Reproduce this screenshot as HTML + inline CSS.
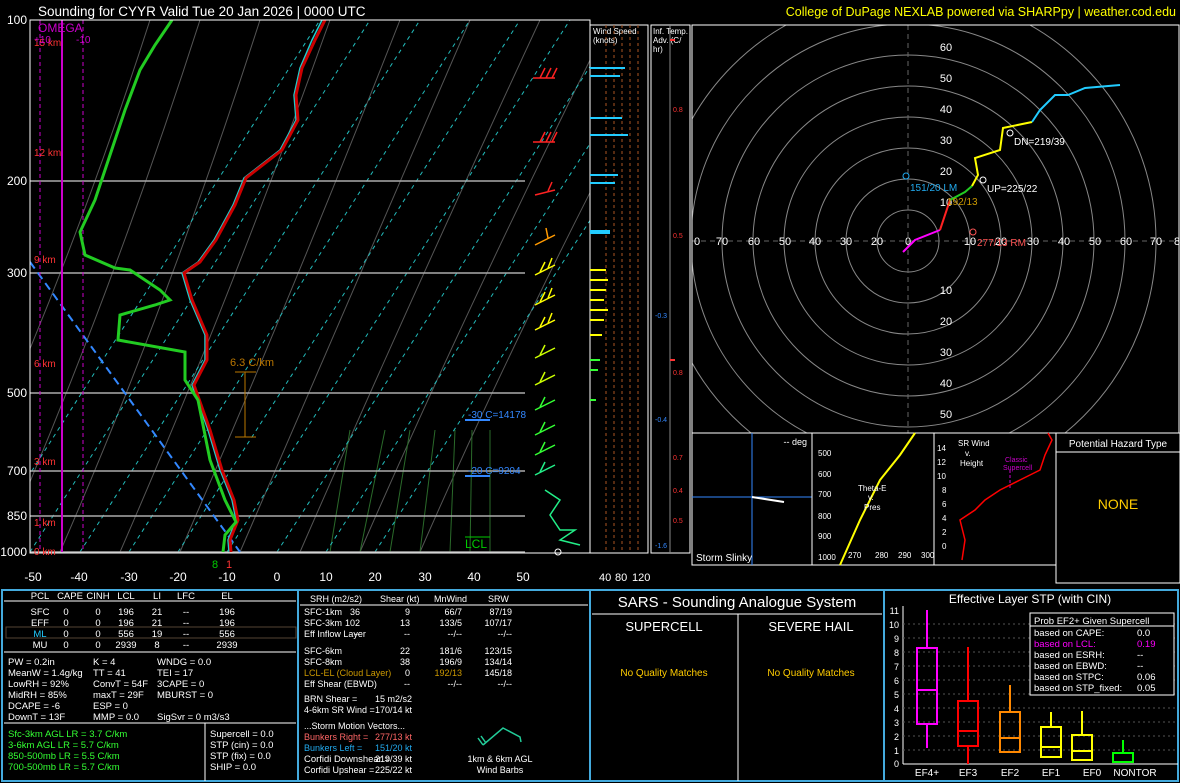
<!DOCTYPE html>
<html><head><meta charset="utf-8"><style>
body{margin:0;background:#000;width:1180px;height:783px;overflow:hidden}
svg{display:block;font-family:"Liberation Sans",sans-serif}
</style></head><body>
<svg width="1180" height="783" viewBox="0 0 1180 783" xmlns="http://www.w3.org/2000/svg">
<rect width="1180" height="783" fill="#000"/>
<text x="38" y="16" fill="#fff" font-size="13.5">Sounding for CYYR Valid  Tue 20 Jan 2026 | 0000 UTC</text>
<text x="1176" y="16" fill="#ff0" font-size="12.5" text-anchor="end">College of DuPage NEXLAB powered via SHARPpy | weather.cod.edu</text>
<defs><clipPath id="sk"><rect x="30" y="20" width="560" height="533"/></clipPath><clipPath id="hd"><rect x="692" y="25" width="487" height="408"/></clipPath></defs>
<g clip-path="url(#sk)">
<g stroke="#555" stroke-width="1" fill="none">
<path d="M-60 552 Q60 300 150 20"/><path d="M0 552 Q110 300 200 20"/><path d="M60 552 Q170 300 260 20"/>
<path d="M120 552 Q230 300 330 20"/><path d="M180 552 Q290 300 400 20"/><path d="M240 552 Q350 300 470 20"/>
<path d="M300 552 Q410 300 540 20"/><path d="M360 552 Q470 300 610 20"/><path d="M420 552 Q530 300 680 20"/>
</g>
<g stroke="#2a6a2a" stroke-width="1" fill="none">
<path d="M330 552 L350 430"/><path d="M360 552 L385 430"/><path d="M390 552 L410 430"/><path d="M420 552 L435 430"/><path d="M450 552 L455 430"/><path d="M470 552 L472 430"/><path d="M490 552 L490 430"/>
</g>
<g stroke="#2bb" stroke-width="1" stroke-dasharray="4,4" fill="none">
<path d="M-20 552 L320 20"/><path d="M30 552 L370 20"/><path d="M80 552 L420 20"/><path d="M129 552 L470 20"/><path d="M178 552 L520 20"/><path d="M227 552 L570 20"/><path d="M277 552 L620 20"/><path d="M326 552 L670 20"/><path d="M375 552 L720 20"/>
</g>
<g stroke="#aaa" stroke-width="1.5"><line x1="30" y1="181" x2="525" y2="181"/><line x1="30" y1="273" x2="525" y2="273"/><line x1="30" y1="393" x2="525" y2="393"/><line x1="30" y1="471" x2="525" y2="471"/><line x1="30" y1="516" x2="525" y2="516"/><line x1="30" y1="552" x2="525" y2="552"/></g>
<line x1="30" y1="262" x2="240" y2="552" stroke="#38f" stroke-width="2" stroke-dasharray="8,5"/>
<line x1="62" y1="20" x2="62" y2="552" stroke="#c0c" stroke-width="2"/>
<line x1="40" y1="20" x2="40" y2="552" stroke="#c0c" stroke-dasharray="4,3"/>
<line x1="83" y1="20" x2="83" y2="552" stroke="#c0c" stroke-dasharray="4,3"/>
<polyline fill="none" stroke="#2cc" stroke-width="1.5" points="322,20 312,40 300,68 294,95 296,120 280,150 244,178 233,205 214,240 198,262 182,273 190,300 205,335 205,360 192,385 208,430 220,470 232,500 236,520 228,540 229,552"/>
<polyline fill="none" stroke="#c00" stroke-width="3" points="325,20 315,40 302,68 296,95 298,120 282,150 246,178 235,205 216,240 200,262 184,273 192,300 207,335 207,360 194,385 210,430 222,470 234,500 238,520 230,540 231,552"/>
<polyline fill="none" stroke="#2c2" stroke-width="3" points="172,20 155,45 140,70 125,110 110,155 95,200 80,232 85,255 115,268 130,270 160,290 170,300 155,305 120,315 118,340 185,352 185,380 198,400 210,460 225,500 236,522 225,535 223,552"/>
<path d="M235 372 H256 M245 372 V437 M235 437 H256" stroke="#b70" fill="none"/>
<text x="230" y="366" fill="#b70" font-size="11">6.3 C/km</text>
<text x="468" y="418" fill="#38f" font-size="10">-30 C=14178</text><line x1="465" y1="420" x2="490" y2="420" stroke="#38f" stroke-width="2"/>
<text x="468" y="474" fill="#38f" font-size="10">-20 C=9204</text><line x1="465" y1="476" x2="490" y2="476" stroke="#38f" stroke-width="2"/>
<text x="465" y="548" fill="#0c0" font-size="12">LCL</text><line x1="465" y1="537" x2="490" y2="537" stroke="#0c0"/>
</g>
<rect x="30" y="20" width="560" height="533" fill="none" stroke="#fff"/>
<g fill="#fff" font-size="12" text-anchor="end">
<text x="27" y="24">100</text><text x="27" y="185">200</text><text x="27" y="277">300</text><text x="27" y="397">500</text><text x="27" y="475">700</text><text x="27" y="520">850</text><text x="27" y="556">1000</text></g>
<g fill="#f33" font-size="10"><text x="34" y="555">0 km</text><text x="34" y="526">1 km</text><text x="34" y="465">3 km</text><text x="34" y="367">6 km</text><text x="34" y="263">9 km</text><text x="34" y="156">12 km</text><text x="34" y="46">15 km</text></g>
<text x="38" y="32" fill="#c0c" font-size="12">OMEGA</text><text x="34" y="43" fill="#c0c" font-size="10">+10</text><text x="76" y="43" fill="#c0c" font-size="10">-10</text>
<text x="212" y="568" fill="#0c0" font-size="11">8</text><text x="226" y="568" fill="#f33" font-size="11">1</text>
<g fill="#fff" font-size="12" text-anchor="middle"><text x="33" y="581">-50</text><text x="79" y="581">-40</text><text x="129" y="581">-30</text><text x="178" y="581">-20</text><text x="227" y="581">-10</text><text x="277" y="581">0</text><text x="326" y="581">10</text><text x="375" y="581">20</text><text x="425" y="581">30</text><text x="474" y="581">40</text><text x="523" y="581">50</text></g>
<g stroke-width="1.5" fill="none">
<path d="M533 78 L555 78 M540 78 L545 68 M546 78 L551 68 M552 78 L557 68" stroke="#f22"/>
<path d="M533 142 L555 142 M540 142 L545 132 M546 142 L551 132 M552 142 L557 132" stroke="#f22"/>
<path d="M535 195 L555 190 M548 191 L552 182" stroke="#f22"/>
<path d="M535 245 L555 235 M548 238 L546 228" stroke="#f90"/>
<path d="M535 275 L555 265 M540 272 L545 262 M548 268 L552 258" stroke="#ff0"/>
<path d="M535 305 L555 295 M540 302 L545 292 M548 298 L552 288" stroke="#ff0"/>
<path d="M535 330 L555 320 M540 327 L545 317 M548 323 L552 313" stroke="#ff0"/>
<path d="M535 358 L555 348 M540 355 L545 345" stroke="#cf0"/>
<path d="M535 385 L555 375 M540 382 L545 372" stroke="#cf0"/>
<path d="M535 410 L555 400 M540 407 L545 397" stroke="#3f3"/>
<path d="M535 435 L555 425 M540 432 L545 422" stroke="#3f3"/>
<path d="M535 455 L555 445 M540 452 L545 442" stroke="#3f3"/>
<path d="M535 475 L555 465 M540 472 L545 462" stroke="#2e8"/>
<path d="M545 490 L560 500 L550 515 L560 530 L575 530 L560 540 L580 545" stroke="#2e8"/>
</g>
<circle cx="558" cy="552" r="3" stroke="#fff" fill="none"/>
<rect x="590" y="25" width="58" height="528" fill="none" stroke="#fff"/>
<text x="593" y="34" fill="#fff" font-size="8">Wind Speed</text><text x="593" y="43" fill="#fff" font-size="8">(knots)</text>
<g stroke="#a52" stroke-dasharray="3,3"><line x1="606" y1="25" x2="606" y2="553"/><line x1="614" y1="25" x2="614" y2="553"/><line x1="622" y1="25" x2="622" y2="553"/><line x1="630" y1="25" x2="630" y2="553"/><line x1="638" y1="25" x2="638" y2="553"/></g>
<g stroke="#2cf" stroke-width="2"><line x1="590" y1="68" x2="625" y2="68"/><line x1="590" y1="76" x2="620" y2="76"/><line x1="590" y1="118" x2="622" y2="118"/><line x1="590" y1="135" x2="628" y2="135"/><line x1="590" y1="175" x2="618" y2="175"/><line x1="590" y1="183" x2="615" y2="183"/><line x1="590" y1="232" x2="610" y2="232" stroke-width="4"/></g>
<g stroke="#ff0" stroke-width="2"><line x1="590" y1="270" x2="606" y2="270"/><line x1="590" y1="280" x2="608" y2="280"/><line x1="590" y1="290" x2="606" y2="290"/><line x1="590" y1="300" x2="604" y2="300"/><line x1="590" y1="310" x2="608" y2="310"/><line x1="590" y1="320" x2="604" y2="320"/><line x1="590" y1="335" x2="602" y2="335"/></g>
<g stroke="#3f3" stroke-width="2"><line x1="590" y1="360" x2="600" y2="360"/><line x1="590" y1="370" x2="598" y2="370"/><line x1="590" y1="400" x2="596" y2="400"/></g>
<g fill="#fff" font-size="11"><text x="599" y="581">40</text><text x="615" y="581">80</text><text x="632" y="581">120</text></g>
<rect x="651" y="25" width="39" height="528" fill="none" stroke="#fff"/>
<text x="653" y="34" fill="#fff" font-size="8">Inf. Temp.</text><text x="653" y="43" fill="#fff" font-size="8">Adv. (C/</text><text x="653" y="52" fill="#fff" font-size="8">hr)</text>
<line x1="670" y1="25" x2="670" y2="553" stroke="#888"/>
<g font-size="7"><text x="673" y="112" fill="#f33">0.8</text><text x="673" y="238" fill="#f33">0.5</text><text x="655" y="318" fill="#38f">-0.3</text><text x="673" y="375" fill="#f33">0.8</text><text x="655" y="422" fill="#38f">-0.4</text><text x="673" y="460" fill="#f33">0.7</text><text x="673" y="493" fill="#f33">0.4</text><text x="673" y="523" fill="#f33">0.5</text><text x="655" y="548" fill="#38f">-1.6</text></g>
<g stroke="#f33" stroke-width="2"><line x1="670" y1="40" x2="675" y2="40"/><line x1="670" y1="360" x2="675" y2="360"/></g>
<g clip-path="url(#hd)">
<g stroke="#888" fill="none"><circle cx="908" cy="241" r="31"/><circle cx="908" cy="241" r="62"/><circle cx="908" cy="241" r="93"/><circle cx="908" cy="241" r="124"/><circle cx="908" cy="241" r="155"/><circle cx="908" cy="241" r="186"/><circle cx="908" cy="241" r="217"/><circle cx="908" cy="241" r="248"/></g>
<g stroke="#666" stroke-dasharray="5,4"><line x1="692" y1="241" x2="1179" y2="241"/><line x1="908" y1="25" x2="908" y2="433"/></g>
</g>
<rect x="692" y="25" width="487" height="408" fill="none" stroke="#fff"/>
<g fill="#fff" font-size="11" text-anchor="middle">
<text x="697" y="245">0</text><text x="722" y="245">70</text><text x="754" y="245">60</text><text x="785" y="245">50</text><text x="815" y="245">40</text><text x="846" y="245">30</text><text x="877" y="245">20</text><text x="908" y="245">0</text><text x="970" y="245">10</text><text x="1001" y="245">20</text><text x="1033" y="245">30</text><text x="1064" y="245">40</text><text x="1095" y="245">50</text><text x="1126" y="245">60</text><text x="1156" y="245">70</text><text x="1177" y="245">8</text>
<text x="946" y="51">60</text><text x="946" y="82">50</text><text x="946" y="113">40</text><text x="946" y="144">30</text><text x="946" y="175">20</text><text x="946" y="206">10</text><text x="946" y="294">10</text><text x="946" y="325">20</text><text x="946" y="356">30</text><text x="946" y="387">40</text><text x="946" y="418">50</text></g>
<polyline fill="none" stroke="#f0f" stroke-width="2" points="940,230 915,240 905,250 903,252"/>
<polyline fill="none" stroke="#f22" stroke-width="2" points="940,230 945,215 950,200"/>
<polyline fill="none" stroke="#2c2" stroke-width="2" points="950,200 965,192 972,186"/>
<polyline fill="none" stroke="#ff0" stroke-width="2" points="972,186 978,175 975,158 1000,150 1003,128 1032,122"/>
<polyline fill="none" stroke="#2cf" stroke-width="2" points="1032,122 1040,110 1055,95 1068,95 1085,88 1120,85"/>
<circle cx="983" cy="180" r="3" fill="none" stroke="#fff"/><text x="987" y="192" fill="#fff" font-size="10">UP=225/22</text>
<circle cx="1010" cy="133" r="3" fill="none" stroke="#fff"/><text x="1014" y="145" fill="#fff" font-size="10">DN=219/39</text>
<circle cx="906" cy="176" r="3" fill="none" stroke="#2ae"/><text x="910" y="191" fill="#2ae" font-size="10">151/20 LM</text>
<circle cx="973" cy="232" r="3" fill="none" stroke="#f55"/><text x="977" y="246" fill="#f55" font-size="10">277/13 RM</text>
<text x="947" y="205" fill="#c90" font-size="10">192/13</text>
<rect x="692" y="433" width="120" height="132" fill="none" stroke="#fff"/>
<text x="807" y="445" fill="#fff" font-size="9" text-anchor="end">-- deg</text>
<line x1="752" y1="433" x2="752" y2="565" stroke="#38f"/><line x1="692" y1="497" x2="812" y2="497" stroke="#38f"/>
<line x1="752" y1="497" x2="784" y2="502" stroke="#fff" stroke-width="2"/>
<text x="696" y="561" fill="#fff" font-size="10">Storm Slinky</text>
<rect x="812" y="433" width="122" height="132" fill="none" stroke="#fff"/>
<polyline fill="none" stroke="#ff0" stroke-width="2" points="840,565 860,520 880,480 900,455 915,433"/>
<text x="858" y="491" fill="#fff" font-size="8">Theta-E</text><text x="868" y="500" fill="#fff" font-size="8">v.</text><text x="864" y="510" fill="#fff" font-size="8">Pres</text>
<g fill="#fff" font-size="8"><text x="818" y="456">500</text><text x="818" y="477">600</text><text x="818" y="497">700</text><text x="818" y="519">800</text><text x="818" y="539">900</text><text x="818" y="560">1000</text><text x="848" y="558">270</text><text x="875" y="558">280</text><text x="898" y="558">290</text><text x="921" y="558">300</text></g>
<rect x="934" y="433" width="122" height="132" fill="none" stroke="#fff"/>
<text x="958" y="446" fill="#fff" font-size="8">SR Wind</text><text x="965" y="456" fill="#fff" font-size="8">v.</text><text x="960" y="466" fill="#fff" font-size="8">Height</text>
<text x="1005" y="462" fill="#c0c" font-size="7">Classic</text><text x="1003" y="470" fill="#c0c" font-size="7">Supercell</text>
<line x1="1010" y1="470" x2="1010" y2="490" stroke="#c0c" stroke-dasharray="3,2"/>
<g fill="#fff" font-size="8"><text x="937" y="451">14</text><text x="937" y="465">12</text><text x="937" y="479">10</text><text x="942" y="493">8</text><text x="942" y="507">6</text><text x="942" y="521">4</text><text x="942" y="535">2</text><text x="942" y="549">0</text></g>
<polyline fill="none" stroke="#f00" stroke-width="1.5" points="962,560 965,540 960,520 975,510 985,500 1000,490 1020,480 1040,470 1045,455 1052,440 1048,433"/>
<rect x="1056" y="433" width="124" height="150" fill="none" stroke="#fff"/>
<line x1="1056" y1="452" x2="1180" y2="452" stroke="#fff"/>
<text x="1118" y="447" fill="#fff" font-size="10" text-anchor="middle">Potential Hazard Type</text>
<text x="1118" y="509" fill="#fc0" font-size="14" text-anchor="middle">NONE</text>
<rect x="2" y="590" width="1176" height="191" fill="none" stroke="#4ad" stroke-width="2"/>
<line x1="298" y1="590" x2="298" y2="781" stroke="#4ad" stroke-width="2"/>
<line x1="590" y1="590" x2="590" y2="781" stroke="#4ad" stroke-width="2"/>
<line x1="884" y1="590" x2="884" y2="781" stroke="#4ad" stroke-width="2"/>
<line x1="4" y1="601" x2="296" y2="601" stroke="#fff"/><line x1="4" y1="652" x2="296" y2="652" stroke="#fff"/><line x1="4" y1="723" x2="296" y2="723" stroke="#fff"/><line x1="205" y1="723" x2="205" y2="781" stroke="#fff"/>
<rect x="6" y="627" width="290" height="11" fill="none" stroke="#543"/>
<g fill="#fff" font-size="9.5">
<g text-anchor="middle"><text x="40" y="599">PCL</text><text x="70" y="599">CAPE</text><text x="98" y="599">CINH</text><text x="126" y="599">LCL</text><text x="157" y="599">LI</text><text x="186" y="599">LFC</text><text x="227" y="599">EL</text>
<text x="40" y="615">SFC</text><text x="66" y="615">0</text><text x="98" y="615">0</text><text x="126" y="615">196</text><text x="157" y="615">21</text><text x="186" y="615">--</text><text x="227" y="615">196</text>
<text x="40" y="626">EFF</text><text x="66" y="626">0</text><text x="98" y="626">0</text><text x="126" y="626">196</text><text x="157" y="626">21</text><text x="186" y="626">--</text><text x="227" y="626">196</text>
<text x="40" y="637" fill="#2cf">ML</text><text x="66" y="637">0</text><text x="98" y="637">0</text><text x="126" y="637">556</text><text x="157" y="637">19</text><text x="186" y="637">--</text><text x="227" y="637">556</text>
<text x="40" y="648">MU</text><text x="66" y="648">0</text><text x="98" y="648">0</text><text x="126" y="648">2939</text><text x="157" y="648">8</text><text x="186" y="648">--</text><text x="227" y="648">2939</text></g>
<text x="8" y="665">PW = 0.2in</text><text x="93" y="665">K = 4</text><text x="157" y="665">WNDG = 0.0</text>
<text x="8" y="676">MeanW = 1.4g/kg</text><text x="93" y="676">TT = 41</text><text x="157" y="676">TEI = 17</text>
<text x="8" y="687">LowRH = 92%</text><text x="93" y="687">ConvT = 54F</text><text x="157" y="687">3CAPE = 0</text>
<text x="8" y="698">MidRH = 85%</text><text x="93" y="698">maxT = 29F</text><text x="157" y="698">MBURST = 0</text>
<text x="8" y="709">DCAPE = -6</text><text x="93" y="709">ESP = 0</text>
<text x="8" y="720">DownT = 13F</text><text x="93" y="720">MMP = 0.0</text><text x="157" y="720">SigSvr = 0 m3/s3</text>
<g fill="#3f3"><text x="8" y="737">Sfc-3km AGL LR = 3.7 C/km</text><text x="8" y="748">3-6km AGL LR = 5.7 C/km</text><text x="8" y="759">850-500mb LR = 5.5 C/km</text><text x="8" y="770">700-500mb LR = 5.7 C/km</text></g>
<text x="210" y="737">Supercell = 0.0</text><text x="210" y="748">STP (cin) = 0.0</text><text x="210" y="759">STP (fix) = 0.0</text><text x="210" y="770">SHIP = 0.0</text>
</g>
<g fill="#fff" font-size="9">
<text x="310" y="602">SRH (m2/s2)</text><text x="380" y="602">Shear (kt)</text><text x="434" y="602">MnWind</text><text x="488" y="602">SRW</text>
<line x1="300" y1="605" x2="588" y2="605" stroke="#fff"/>
<text x="304" y="615">SFC-1km</text><text x="304" y="626">SFC-3km</text><text x="304" y="637">Eff Inflow Layer</text><text x="304" y="654">SFC-6km</text><text x="304" y="665">SFC-8km</text><text x="304" y="676" fill="#c90">LCL-EL (Cloud Layer)</text><text x="304" y="687">Eff Shear (EBWD)</text>
<g text-anchor="end"><text x="360" y="615">36</text><text x="360" y="626">102</text><text x="360" y="637">--</text>
<text x="410" y="615">9</text><text x="410" y="626">13</text><text x="410" y="637">--</text><text x="410" y="654">22</text><text x="410" y="665">38</text><text x="410" y="676">0</text><text x="410" y="687">--</text>
<text x="462" y="615">66/7</text><text x="462" y="626">133/5</text><text x="462" y="637">--/--</text><text x="462" y="654">181/6</text><text x="462" y="665">196/9</text><text x="462" y="676" fill="#c90">192/13</text><text x="462" y="687">--/--</text>
<text x="512" y="615">87/19</text><text x="512" y="626">107/17</text><text x="512" y="637">--/--</text><text x="512" y="654">123/15</text><text x="512" y="665">134/14</text><text x="512" y="676">145/18</text><text x="512" y="687">--/--</text>
<text x="412" y="702">15 m2/s2</text><text x="412" y="713">170/14 kt</text>
<text x="412" y="740" fill="#f66">277/13 kt</text><text x="412" y="751" fill="#2ae">151/20 kt</text><text x="412" y="762">219/39 kt</text><text x="412" y="773">225/22 kt</text></g>
<text x="304" y="702">BRN Shear =</text><text x="304" y="713">4-6km SR Wind =</text>
<text x="304" y="729">...Storm Motion Vectors...</text><text x="304" y="740" fill="#f66">Bunkers Right =</text><text x="304" y="751" fill="#2ae">Bunkers Left =</text><text x="304" y="762" textLength="86" lengthAdjust="spacingAndGlyphs">Corfidi Downshear =</text><text x="304" y="773">Corfidi Upshear =</text>
<text x="500" y="762" text-anchor="middle">1km &amp; 6km AGL</text><text x="500" y="773" text-anchor="middle">Wind Barbs</text>
</g>
<path d="M483 745 L503 728 L520 737 L521 742 M483 745 L478 738 M486 743 L481 736" stroke="#2c9" fill="none" stroke-width="1.5"/>
<text x="737" y="607" fill="#fff" font-size="15" text-anchor="middle">SARS - Sounding Analogue System</text>
<line x1="592" y1="614" x2="882" y2="614" stroke="#fff"/><line x1="738" y1="614" x2="738" y2="781" stroke="#fff"/>
<text x="664" y="631" fill="#fff" font-size="13" text-anchor="middle">SUPERCELL</text><text x="811" y="631" fill="#fff" font-size="13" text-anchor="middle">SEVERE HAIL</text>
<text x="664" y="676" fill="#fc0" font-size="10" text-anchor="middle">No Quality Matches</text><text x="811" y="676" fill="#fc0" font-size="10" text-anchor="middle">No Quality Matches</text>
<text x="1030" y="603" fill="#fff" font-size="12" text-anchor="middle">Effective Layer STP (with CIN)</text>
<g fill="#fff" font-size="9" text-anchor="end"><text x="899" y="614">11</text><text x="899" y="628">10</text><text x="899" y="642">9</text><text x="899" y="656">8</text><text x="899" y="670">7</text><text x="899" y="684">6</text><text x="899" y="698">5</text><text x="899" y="712">4</text><text x="899" y="726">3</text><text x="899" y="740">2</text><text x="899" y="754">1</text><text x="899" y="767">0</text></g>
<line x1="903" y1="606" x2="903" y2="764" stroke="#fff"/><line x1="903" y1="764" x2="1178" y2="764" stroke="#fff"/>
<g stroke="#555" stroke-dasharray="2,3"><line x1="903" y1="750" x2="1178" y2="750"/><line x1="903" y1="736" x2="1178" y2="736"/><line x1="903" y1="722" x2="1178" y2="722"/><line x1="903" y1="708" x2="1178" y2="708"/><line x1="903" y1="694" x2="1178" y2="694"/><line x1="903" y1="680" x2="1178" y2="680"/><line x1="903" y1="666" x2="1178" y2="666"/><line x1="903" y1="652" x2="1178" y2="652"/><line x1="903" y1="638" x2="1178" y2="638"/><line x1="903" y1="624" x2="1178" y2="624"/></g>
<g fill="none" stroke-width="2">
<g stroke="#f0f"><line x1="927" y1="610" x2="927" y2="648"/><rect x="917" y="648" width="20" height="76"/><line x1="917" y1="690" x2="937" y2="690"/><line x1="927" y1="724" x2="927" y2="748"/></g>
<g stroke="#f00"><line x1="968" y1="647" x2="968" y2="701"/><rect x="958" y="701" width="20" height="45"/><line x1="958" y1="731" x2="978" y2="731"/><line x1="968" y1="746" x2="968" y2="764"/></g>
<g stroke="#f80"><line x1="1010" y1="685" x2="1010" y2="712"/><rect x="1000" y="712" width="20" height="40"/><line x1="1000" y1="738" x2="1020" y2="738"/></g>
<g stroke="#ff0"><line x1="1051" y1="712" x2="1051" y2="727"/><rect x="1041" y="727" width="20" height="30"/><line x1="1041" y1="747" x2="1061" y2="747"/><line x1="1082" y1="711" x2="1082" y2="735"/><rect x="1072" y="735" width="20" height="25"/><line x1="1072" y1="751" x2="1092" y2="751"/></g>
<g stroke="#0f0"><line x1="1123" y1="740" x2="1123" y2="753"/><rect x="1113" y="753" width="20" height="9"/></g>
</g>
<g fill="#fff" font-size="10" text-anchor="middle"><text x="927" y="776">EF4+</text><text x="968" y="776">EF3</text><text x="1010" y="776">EF2</text><text x="1051" y="776">EF1</text><text x="1092" y="776">EF0</text><text x="1135" y="776">NONTOR</text></g>
<rect x="1030" y="613" width="144" height="82" fill="#000" stroke="#fff"/>
<g fill="#fff" font-size="9.5"><text x="1034" y="624">Prob EF2+ Given Supercell</text><line x1="1030" y1="626" x2="1174" y2="626" stroke="#fff"/>
<text x="1034" y="636">based on CAPE:</text><text x="1137" y="636">0.0</text>
<text x="1034" y="647" fill="#f0f">based on LCL:</text><text x="1137" y="647" fill="#f0f">0.19</text>
<text x="1034" y="658">based on ESRH:</text><text x="1137" y="658">--</text>
<text x="1034" y="669">based on EBWD:</text><text x="1137" y="669">--</text>
<text x="1034" y="680">based on STPC:</text><text x="1137" y="680">0.06</text>
<text x="1034" y="691">based on STP_fixed:</text><text x="1137" y="691">0.05</text></g>
</svg>
</body></html>
